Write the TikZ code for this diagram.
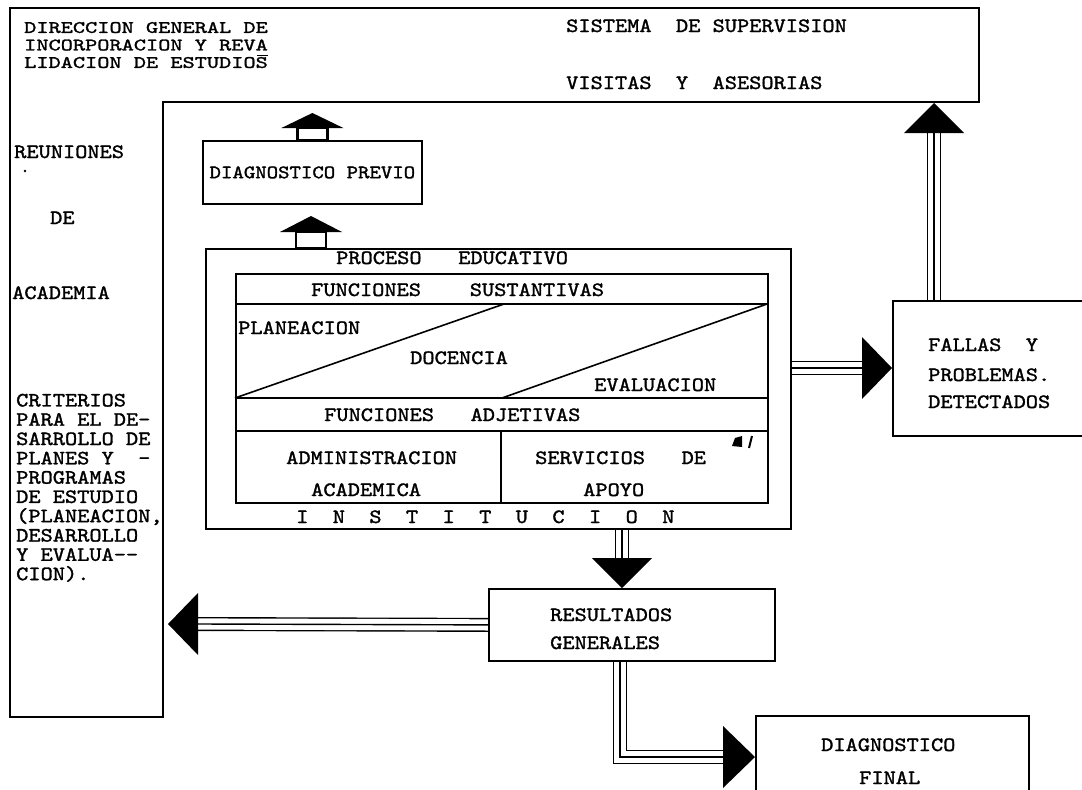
\documentclass[tikz,border=0pt]{standalone}
\usepackage{fontspec}
\newfontfamily\tw{lmmono10-regular.otf}[FakeStretch=1.145,FakeBold=1.5]
\newfontfamily\twn{lmmono10-regular.otf}[FakeStretch=1.326,FakeBold=1.5]
\usetikzlibrary{calc,backgrounds}
\begin{document}
\begin{tikzpicture}[x=1pt,y=-1pt,
  every node/.style={font=\tw\fontsize{20.3}{19.3}\selectfont, inner sep=0pt},
  box/.style={draw, line width=1.8pt, anchor=north west},
  txt/.style={anchor=base west},
  blk/.style={anchor=north west, align=left},
  ln/.style={line width=1.6pt},
  frm/.style={line width=2pt},
  head/.style={fill=black},
  triple/.style={line width=1.4pt, preaction={draw=black,line width=14pt}, preaction={draw=white,line width=11.2pt}},
  stem/.style={draw, line width=2.6pt, fill=white}]
\useasboundingbox (0,0) rectangle (1082,790);
\clip (0,0) rectangle (1082,790);

% outer frame
\draw[frm] (10,8) -- (979,8) -- (979,102) -- (163,102) -- (163,717) -- (10,717) -- cycle;

% top texts
\node[blk, font=\twn\fontsize{17.5}{17.5}\selectfont] (dir) at (24,21.8) {DIRECCION GENERAL DE\\INCORPORACION Y REVA\\LIDACION DE ESTUDIOS};
\draw[line width=1.2pt] (257,55.5) -- (268,55.5);
\node[txt] (s1) at (566,32) {SISTEMA~~DE SUPERVISION};
\node[txt] (s2) at (566,89) {VISITAS~~Y~~ASESORIAS};

% left column
\node[txt] (l1) at (14,158) {REUNIONES};
\fill (25,171) circle (1.3);
\node[txt] (l2) at (50,224) {DE};
\node[txt] (l3) at (12,299) {ACADEMIA};
\node[blk] (crit) at (16,393.6) {CRITERIOS\\PARA EL DE-\\SARROLLO DE\\PLANES Y~~-\\PROGRAMAS\\DE ESTUDIO\\(PLANEACION,\\DESARROLLO\\Y EVALUA--\\CION).};

% diagnostico previo
\node[box, minimum width=219pt, minimum height=63pt, font=\tw\fontsize{19}{19}\selectfont] (dprev) at (202,140) {DIAGNOSTICO PREVIO};

% institucion
\node[box, minimum width=585pt, minimum height=280pt] (inst) at (205,248) {};
\node[box, line width=1.6pt, minimum width=532pt, minimum height=229pt] (inner) at (235,273) {};
\draw[ln] (235,304) -- (767,304);
\draw[ln] (235,398) -- (504,304);
\draw[ln] (502,398) -- (767,304);
\draw[ln] (235,398) -- (767,398);
\draw[ln] (235,431) -- (767,431);
\draw[ln] (501,431) -- (501,502);
\node[txt] (p1) at (336,264) {PROCESO~~~EDUCATIVO};
\node[txt] (p2) at (311,296) {FUNCIONES~~~~SUSTANTIVAS};
\node[txt] (p3) at (238,334) {PLANEACION};
\node[txt] (p4) at (410,364) {DOCENCIA};
\node[txt] (p5) at (594,391) {EVALUACION};
\node[txt] (p6) at (324,421) {FUNCIONES~~~ADJETIVAS};
\node[txt] (p7) at (286,464) {ADMINISTRACION};
\node[txt] (p8) at (311,496) {ACADEMICA};
\node[txt] (p9) at (535,464) {SERVICIOS~~~DE};
\node[txt] (p10) at (583,496) {APOYO};
\node[txt] (p11) at (296,523) {I~~N~~S~~T~~I~~T~~U~~C~~I~~O~~N};
\fill (732,446) -- (735,438) -- (742,436) -- (742,447) -- cycle;
\draw[line width=2pt] (752,436) -- (749,448);

% fallas
\node[box, minimum width=192pt, minimum height=135pt] (fallas) at (892,300) {};
\node[txt] (f1) at (928,351) {FALLAS~~Y};
\node[txt] (f2) at (928,381) {PROBLEMAS.};
\node[txt] (f3) at (928,408) {DETECTADOS};

% resultados
\node[box, minimum width=286pt, minimum height=72pt] (res) at (488,588) {};
\node[txt] (r1) at (550,621) {RESULTADOS};
\node[txt] (r2) at (550,649) {GENERALES};

% diagnostico final
\node[box, minimum width=273pt, minimum height=90pt] (dfin) at (755,715) {};
\node[txt] (d1) at (821,751) {DIAGNOSTICO};
\node[txt] (d2) at (859,784) {FINAL};

% house arrows
\coordinate (hA) at (dprev.north);
\draw[stem] ($(hA)+(-15,0)$) rectangle ($(hA)+(15,-12)$);
\fill[head] ($(hA)+(0,-27)$) -- ($(hA)+(-31,-12)$) -- ($(hA)+(31,-12)$) -- cycle;
\coordinate (hB) at ($(inst.north west)+(106,0)$);
\draw[stem] ($(hB)+(-15,0)$) rectangle ($(hB)+(15,-16)$);
\fill[head] ($(hB)+(0,-32)$) -- ($(hB)+(-31,-16)$) -- ($(hB)+(31,-16)$) -- cycle;

% triple connectors
\coordinate (fU) at ($(fallas.north west)+(42,0)$);
\coordinate (iR) at ($(inst.north east)+(0,120)$);
\coordinate (fL) at ($(fallas.north west)+(0,68)$);
\coordinate (iD) at ($(inst.south west)+(417,0)$);
\coordinate (rT) at ($(res.north west)+(134,0)$);
\coordinate (lT) at (168,624);
\coordinate (rB) at ($(res.south west)+(132,0)$);
\coordinate (dL) at ($(dfin.north west)+(0,42)$);
\begin{scope}[on background layer]
\draw[triple] (fU) -- ($(fU)+(0,-167)$);
\draw[triple] (iR) -- ($(fL)+(-30,0)$);
\draw[triple] (iD) -- ($(rT)+(0,-30)$);
\draw[triple] (res.west) -- ($(lT)+(30,0)$);
\draw[triple] (rB) -- (rB |- dL) -- ($(dL)+(-32,0)$);
\end{scope}
\fill[head] ($(fU)+(0,-197)$) -- ++(-30,30) -- ++(60,0) -- cycle;
\fill[head] (fL) -- ++(-30,-31) -- ++(0,62) -- cycle;
\fill[head] (rT) -- ++(-30,-30) -- ++(60,0) -- cycle;
\fill[head] (lT) -- ++(30,-31) -- ++(0,62) -- cycle;
\fill[head] (dL) -- ++(-32,-31) -- ++(0,62) -- cycle;
\end{tikzpicture}
\end{document}
